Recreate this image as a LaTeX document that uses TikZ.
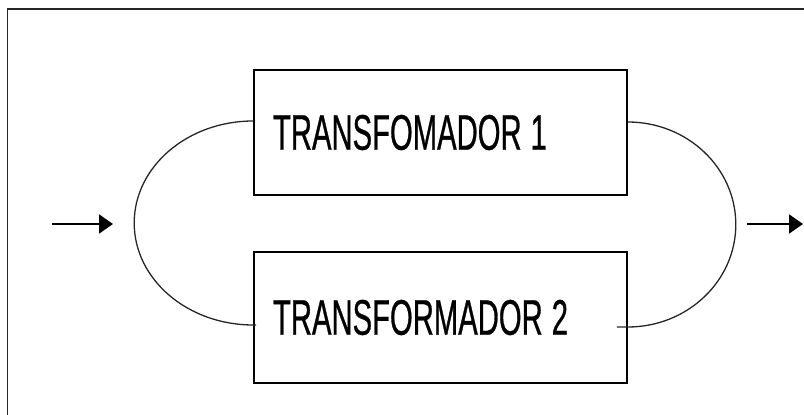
\documentclass[tikz,border=0pt]{standalone}
\usepackage{fontspec}
\newfontfamily\trafofont[FakeStretch=0.585,FakeBold=0.6]{Liberation Sans}
\usetikzlibrary{arrows.meta}

\begin{document}
\begin{tikzpicture}[
  x=1pt, y=1pt,
  every node/.style = {font=\trafofont\fontsize{50}{60}\selectfont},
  trafo/.style      = {draw, line width=1.6pt, minimum width=373pt,
                        inner xsep=19pt, text width=335pt, align=left},
  link/.style       = {line width=1.3pt, black!85},
  arr/.style        = {-{Triangle[length=14pt,width=19pt]}, line width=2pt},
]
\useasboundingbox (0,0) rectangle (804,415);

% ── Frame ────────────────────────────────────────────────────────────────────
\draw[line width=1.3pt, black!85] (7.5,0) -- (7.5,406) -- (804,406);

% ── Transformers in parallel ─────────────────────────────────────────────────
\node[trafo, minimum height=125pt] (T1) at (440.5,282.5)
  {TRANSFOMADOR\hspace{9pt}1};
\node[trafo, minimum height=131pt] (T2) at (440.5,97.5)
  {TRANSFORMADOR\hspace{9pt}2};

% ── Input / output terminals ─────────────────────────────────────────────────
\coordinate (inA)  at (52,191);
\coordinate (inB)  at (113,191);
\coordinate (outA) at (747,191);
\coordinate (outB) at (803,191);

% ── Connections ──────────────────────────────────────────────────────────────
\draw[link] ([yshift=11.5pt]T1.west)
  arc[start angle=90, end angle=270, x radius=119, y radius=102]
  -- ([shift={(3,-7.5)}]T2.west);
\draw[link] ([yshift=10.5pt]T1.east)
  arc[start angle=90, end angle=-90, x radius=108, y radius=102.5]
  -- ([shift={(-11,-9.5)}]T2.east);

\draw[arr] (inA) -- (inB);
\draw[arr] (outA) -- (outB);

\end{tikzpicture}
\end{document}
